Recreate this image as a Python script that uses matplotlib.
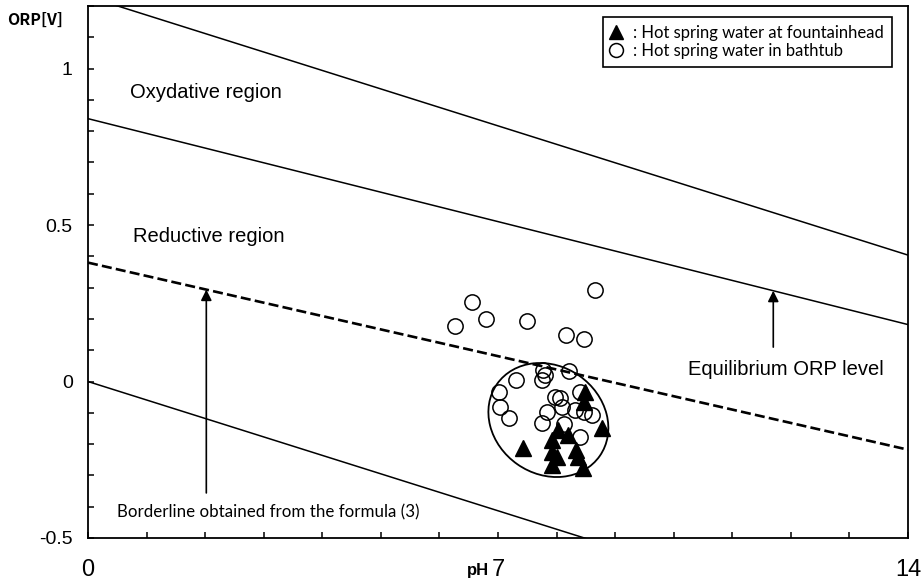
import matplotlib
matplotlib.use("Agg")
import matplotlib.pyplot as plt
from matplotlib.lines import Line2D
from matplotlib.patches import Ellipse
from matplotlib import transforms
import numpy as np

# Boundary lines, ORP = intercept + slope * pH  [V]
ph_range = np.array([0.0, 14.0])
oxygen_line = (1.23, -0.059)          # upper limit
equilibrium_line = (0.84, -0.047)     # equilibrium ORP level
borderline = (0.38, -0.0427)          # borderline from formula (3)
hydrogen_line = (0.0, -0.059)         # lower limit

# Hot spring water at fountainhead
fountain_ph = [7.43, 8.03, 7.92, 8.20, 7.93, 8.00, 7.92, 8.34, 8.37, 8.45, 8.77, 8.49, 8.46]
fountain_orp = [-0.213, -0.154, -0.186, -0.170, -0.224, -0.240, -0.266, -0.218, -0.240,
                -0.277, -0.149, -0.035, -0.064]

# Hot spring water in bathtub
bathtub_ph = [6.27, 6.55, 6.79, 7.50, 8.16, 8.46, 8.65,
              7.76, 7.80, 7.75, 8.22, 7.31, 7.01, 7.04, 7.18, 7.97, 8.06, 8.10,
              7.84, 8.40, 8.31, 8.46, 8.60, 7.75, 8.12, 8.40]
bathtub_orp = [0.176, 0.254, 0.200, 0.192, 0.149, 0.136, 0.293,
               0.037, 0.020, 0.005, 0.035, 0.005, -0.035, -0.080, -0.117, -0.048, -0.052, -0.080,
               -0.096, -0.035, -0.090, -0.096, -0.107, -0.133, -0.135, -0.176]

x_ticks = list(range(0, 15))
x_labels = {0: "0", 7: "7", 14: "14"}
y_ticks = [round(-0.5 + 0.1 * i, 1) for i in range(18)]
y_labels = {-0.5: "-0.5", 0.0: "0", 0.5: "0.5", 1.0: "1"}

narrow = ["Liberation Sans Narrow", "Liberation Sans", "DejaVu Sans"]
sans = ["Liberation Sans", "DejaVu Sans"]
small = ["Lato", "DejaVu Sans"]

fig = plt.figure(figsize=(9.23, 5.82), dpi=100)
ax = fig.add_axes([88 / 923, 1 - 538 / 582, 820 / 923, 532 / 582])
ax.set_xlim(0, 14)
ax.set_ylim(-0.5, 1.2)


def line(params):
    b, m = params
    return b + m * ph_range


lw = 1.1
ax.plot(ph_range, line(oxygen_line), color="black", lw=lw)
ax.plot(ph_range, line(equilibrium_line), color="black", lw=lw)
ax.plot(ph_range, line(hydrogen_line), color="black", lw=lw)
ax.plot(ph_range, line(borderline), color="black", lw=1.9, dashes=(3.8, 1.6))

# Arrows pointing at the lines
arrow_kw = dict(arrowstyle="-|>", color="black", lw=1.2, mutation_scale=16,
                shrinkA=0, shrinkB=0)
x_b = 2.02
ax.annotate("", xy=(x_b, borderline[0] + borderline[1] * x_b), xytext=(x_b, -0.356),
            arrowprops=arrow_kw)
x_e = 11.7
ax.annotate("", xy=(x_e, equilibrium_line[0] + equilibrium_line[1] * x_e), xytext=(x_e, 0.11),
            arrowprops=arrow_kw)

# Region labels
ax.text(0.72, 0.923, "Oxydative region", family=sans, fontsize=14.5, va="center", ha="left")
ax.text(0.77, 0.463, "Reductive region", family=sans, fontsize=14.5, va="center", ha="left")
ax.text(10.24, 0.037, "Equilibrium ORP level", family=sans, fontsize=14.5, va="center", ha="left")
ax.text(0.5, -0.418, "Borderline obtained from the formula (3)", family=small, fontsize=12.2,
        va="center", ha="left")

# Measured values
ax.plot(bathtub_ph, bathtub_orp, ls="none", marker="o", ms=11, mfc="none", mec="black", mew=1.1)
ax.plot(fountain_ph, fountain_orp, ls="none", marker="^", ms=11, color="black")

# Ellipse enclosing the cluster
ell_tr = fig.dpi_scale_trans + transforms.ScaledTranslation(7.86, -0.123, ax.transData)
ax.add_patch(Ellipse((0, 0), width=1.254, height=1.08, angle=-35, fill=False,
                     lw=1.3, ec="black", transform=ell_tr))

# Axes styling
for s in ax.spines.values():
    s.set_linewidth(1.3)
ax.set_xticks(x_ticks)
ax.set_xticklabels([x_labels.get(t, "") for t in x_ticks], family=narrow, fontsize=17)
ax.set_yticks(y_ticks)
ax.set_yticklabels([y_labels.get(t, "") for t in y_ticks], family=narrow, fontsize=14)
ax.tick_params(axis="x", direction="in", length=4, width=1.1, pad=15)
ax.tick_params(axis="y", direction="in", length=4, width=1.1, pad=11)

ax.text(6.65, -0.062, "pH", transform=transforms.blended_transform_factory(ax.transData, ax.transAxes),
        family=narrow, fontweight="bold", fontsize=12, ha="center", va="center")
fig.text(7 / 923, 1 - 20 / 582, "ORP[V]", family=["Noto Sans CJK JP", "DejaVu Sans"],
         fontweight="bold", fontsize=11.5, ha="left", va="center")

# Legend
handles = [Line2D([], [], ls="none", marker="^", ms=10, color="black"),
           Line2D([], [], ls="none", marker="o", ms=10, mfc="none", mec="black", mew=1.1)]
labels = [": Hot spring water at fountainhead", ": Hot spring water in bathtub"]
leg = ax.legend(handles, labels, loc="upper right", bbox_to_anchor=(0.980, 0.979),
                frameon=True, fancybox=False, edgecolor="black", framealpha=1,
                borderaxespad=0, handlelength=0.7, handletextpad=0.7, labelspacing=0.15,
                borderpad=0.45, prop={"family": small, "size": 12})
leg.get_frame().set_linewidth(1.2)

fig.savefig("out.png", dpi=100)
